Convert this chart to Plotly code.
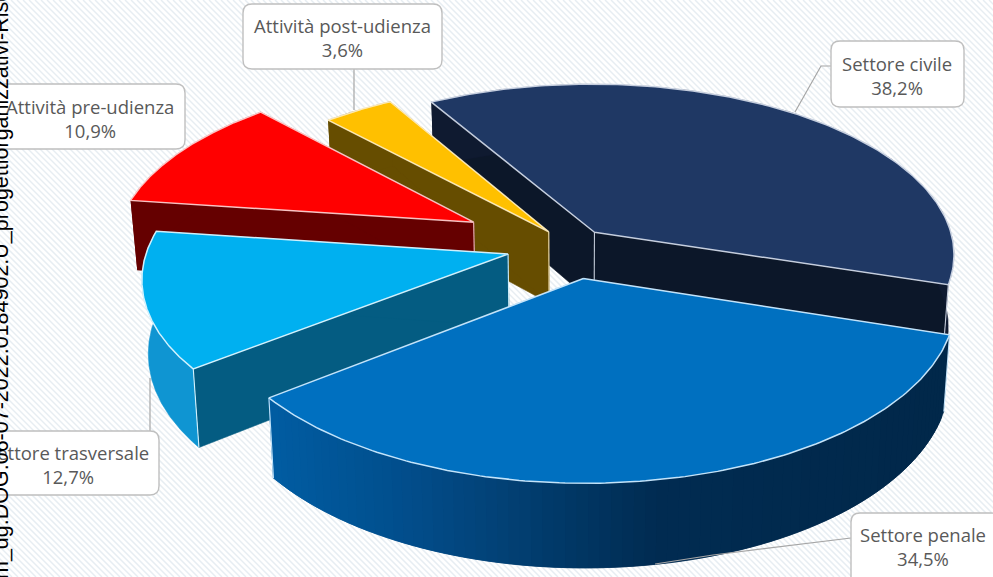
import numpy as np
import plotly.graph_objects as go

# Distribution of activity by sector, in percent
sectors = ["Settore civile", "Settore penale", "Settore trasversale",
           "Attività pre-udienza", "Attività post-udienza"]
shares = [38.2, 34.5, 12.7, 10.9, 3.6]
share_labels = ["38,2%", "34,5%", "12,7%", "10,9%", "3,6%"]

# Styling, one entry per sector
explode = [0.105, 0.19, 0.18, 0.31, 0.105]
top_colors = ["#1f3864", "#0070c0", "#00b0f0", "#ff0000", "#ffc000"]
face_colors = ["#0c1729", "#003a6e", "#045c82", "#650000", "#664d00"]
rim_colors = ["#0f1a30", None, "#0f95d2", "#650000", "#664d00"]
edge_colors = ["rgba(225,232,245,0.85)", "rgba(205,235,255,0.95)", "rgba(220,245,255,0.95)",
               "rgba(255,215,215,0.9)", "rgba(255,240,200,0.9)"]
# Which rim ends carry a visible vertical edge (start, end)
rim_edges = [(False, True), (True, True), (True, False), (False, False), (False, False)]
draw_order = [0, 4, 3, 2, 1]

# Projection of the tilted pie onto the page
W, H = 993, 577
VX, VY = 571, 246
AX, AZ = 360, 170
PERSP = 0.126
DEPTH = 72
TAPER = 0.985
START_DEG = 240.0

# Penale rim shading, from the left of the rim to the right
rim_stops_x = [265, 400, 520, 650, 950]
rim_stops_rgb = np.array([[1, 93, 163], [2, 78, 140], [2, 62, 112], [1, 44, 82], [1, 40, 74]], float)

# Callout boxes: left, top, right, bottom, and leader path
boxes = [(831, 41, 964, 107), (851, 513, 1000, 590), (-30, 431, 159, 495),
         (-12, 84, 185, 149), (243, 4, 442, 69)]
leaders = [[(831, 66), (821, 66), (795, 112)], [(851, 538), (713, 555), (655, 564)],
           [(150, 431), (150, 378)], [], [(354, 69), (354, 110)]]


def project(x, z, bottom=False):
    x, z = np.asarray(x, float), np.asarray(z, float)
    s = 1 / (1 - PERSP * z)
    sx = VX + AX * x * s
    sy = VY + AZ * z * s
    if bottom:
        sx = VX + (sx - VX) * TAPER
        sy = sy + DEPTH * s
    return sx, sy


def polygon(xs, ys, color, line=None, width=0.6):
    return go.Scatter(x=list(xs), y=list(ys), mode="lines", fill="toself", fillcolor=color,
                      line=dict(color=line or color, width=width), hoverinfo="skip", showlegend=False)


def segment(p, q, color, width=1.1):
    return go.Scatter(x=[p[0], q[0]], y=[p[1], q[1]], mode="lines",
                      line=dict(color=color, width=width), hoverinfo="skip", showlegend=False)


def rim_gradient(x):
    return "rgb(%d,%d,%d)" % tuple(np.interp(x, rim_stops_x, rim_stops_rgb[:, c]) for c in range(3))


fig = go.Figure()

# Fine diagonal hatching behind the chart
hatch_x, hatch_y = [], []
for c in np.arange(-H, W, 6.0):
    hatch_x += [c, c + H, None]
    hatch_y += [0, H, None]
fig.add_trace(go.Scatter(x=hatch_x, y=hatch_y, mode="lines", line=dict(color="#e7edf2", width=1.5),
                         hoverinfo="skip", showlegend=False))

# Angular span of every slice, clockwise on the page
spans = []
angle = START_DEG
deg_per_unit = 360.0 / sum(shares)
for share in shares:
    spans.append((angle, angle + share * deg_per_unit))
    angle += share * deg_per_unit

for i in draw_order:
    a0, a1 = np.radians(spans[i])
    mid = (a0 + a1) / 2
    cx, cz = explode[i] * np.cos(mid), explode[i] * np.sin(mid)
    t = np.linspace(a0, a1, 160)
    rx, rz = cx + np.cos(t), cz + np.sin(t)
    top_x, top_y = project(rx, rz)
    bot_x, bot_y = project(rx, rz, bottom=True)
    ax, ay = project(cx, cz)
    bx, by = project(cx, cz, bottom=True)

    # Radial faces
    fig.add_trace(polygon([top_x[0], ax, bx, bot_x[0]], [top_y[0], ay, by, bot_y[0]], face_colors[i]))
    fig.add_trace(polygon([top_x[-1], ax, bx, bot_x[-1]], [top_y[-1], ay, by, bot_y[-1]], face_colors[i]))

    # Outer rim
    if rim_colors[i] is None:
        n = len(t) - 1
        for j in range(0, n, 2):
            e = min(j + 4, n) + 1
            fig.add_trace(polygon(np.r_[top_x[j:e], bot_x[j:e][::-1]], np.r_[top_y[j:e], bot_y[j:e][::-1]],
                                  rim_gradient(top_x[j:e].mean())))
    else:
        fig.add_trace(polygon(np.r_[top_x, bot_x[::-1]], np.r_[top_y, bot_y[::-1]], rim_colors[i]))

    # Vertical edges
    fig.add_trace(segment((ax, ay), (bx, by), edge_colors[i]))
    if rim_edges[i][0]:
        fig.add_trace(segment((top_x[0], top_y[0]), (bot_x[0], bot_y[0]), edge_colors[i]))
    if rim_edges[i][1]:
        fig.add_trace(segment((top_x[-1], top_y[-1]), (bot_x[-1], bot_y[-1]), edge_colors[i]))

    # Top surface
    fig.add_trace(polygon(np.r_[ax, top_x, ax], np.r_[ay, top_y, ay], top_colors[i],
                          line=edge_colors[i], width=1.5))


def rounded_path(l, t, r, b, q=9):
    return (f"M{l + q},{t} L{r - q},{t} Q{r},{t} {r},{t + q} L{r},{b - q} Q{r},{b} {r - q},{b} "
            f"L{l + q},{b} Q{l},{b} {l},{b - q} L{l},{t + q} Q{l},{t} {l + q},{t} Z")


shapes = []
annotations = []
for i, (l, t, r, b) in enumerate(boxes):
    if leaders[i]:
        shapes.append(dict(type="path", layer="above", xref="x", yref="y",
                           path="M" + " L".join(f"{x},{y}" for x, y in leaders[i]),
                           line=dict(color="#a6a6a6", width=1.2)))
    shapes.append(dict(type="path", layer="above", xref="x", yref="y",
                       path=rounded_path(l, t, r, b), fillcolor="#ffffff",
                       line=dict(color="#bfbfbf", width=1.4)))

label_centers = [(897, 75), (923, 546), (68, 464), (90, 118), (342, 37)]
for i, (x, y) in enumerate(label_centers):
    annotations.append(dict(x=x, y=y, xref="x", yref="y", showarrow=False,
                            text=f"{sectors[i]}<br>{share_labels[i]}",
                            font=dict(family="Open Sans", size=18.5, color="#595959"),
                            align="center", xanchor="center", yanchor="middle"))

# Protocol stamp running up the left edge
annotations.append(dict(x=1, y=285, xref="x", yref="y", showarrow=False, textangle=-90,
                        text="m_dg.DOG.06-07-2022.0184902.U_progettiorganizzativi-Risc",
                        font=dict(family="Liberation Sans", size=21.5, color="#000000"),
                        xanchor="center", yanchor="middle"))

fig.update_layout(width=W, height=H, margin=dict(l=0, r=0, t=0, b=0),
                  paper_bgcolor="#ffffff", plot_bgcolor="#ffffff", showlegend=False,
                  xaxis=dict(range=[0, W], visible=False, fixedrange=True),
                  yaxis=dict(range=[H, 0], visible=False, fixedrange=True),
                  shapes=shapes, annotations=annotations)

fig.write_html("out.html", config=dict(displayModeBar=False))
